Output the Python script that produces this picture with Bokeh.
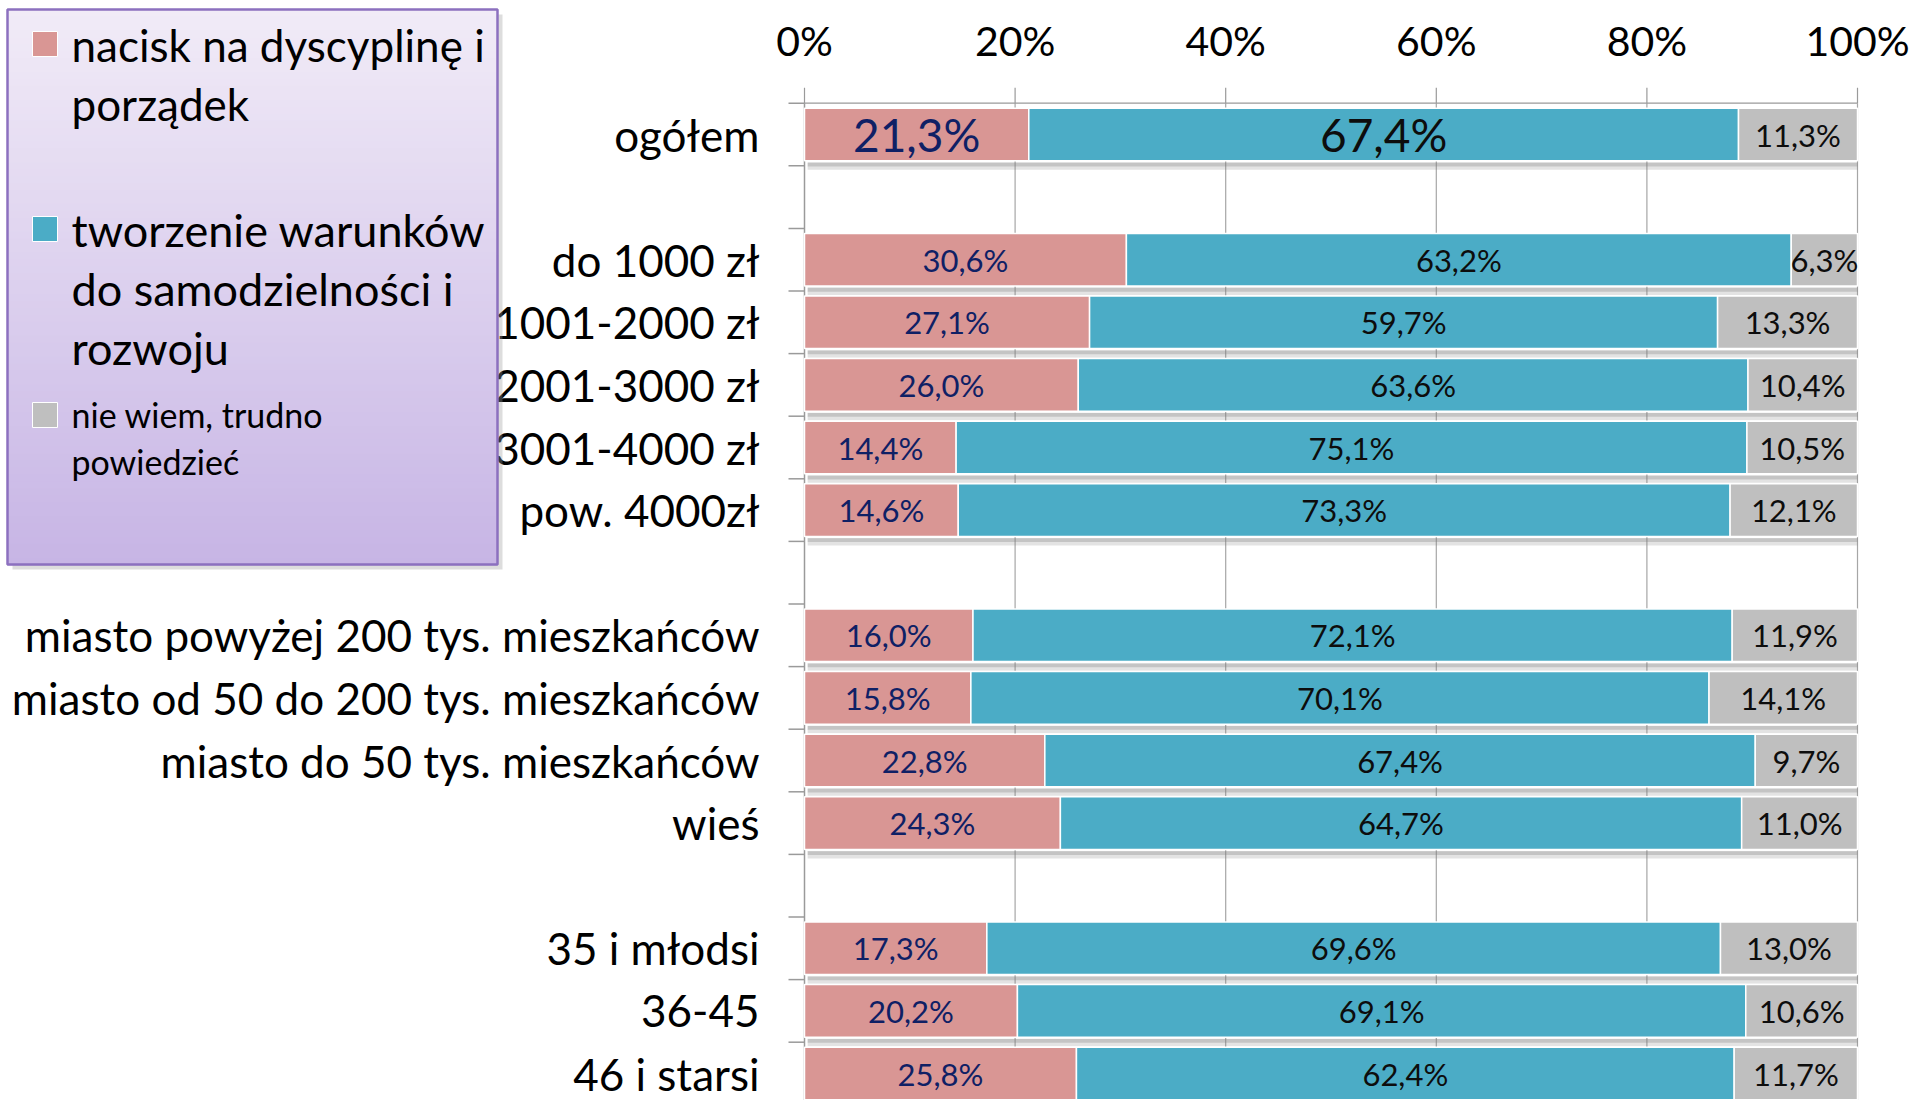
from bokeh.plotting import figure
from bokeh.models import Range1d, ColumnDataSource
from bokeh.core.properties import value
from bokeh.embed import file_html
from bokeh.resources import INLINE

# ---------------- data ----------------
group_total = ["ogółem"]
group_income = ["do 1000 zł", "1001-2000 zł", "2001-3000 zł", "3001-4000 zł", "pow. 4000zł"]
group_place = ["miasto powyżej 200 tys. mieszkańców", "miasto od 50 do 200 tys. mieszkańców",
               "miasto do 50 tys. mieszkańców", "wieś"]
group_age = ["35 i młodsi", "36-45", "46 i starsi"]
groups = [group_total, group_income, group_place, group_age]

discipline = [21.3, 30.6, 27.1, 26.0, 14.4, 14.6, 16.0, 15.8, 22.8, 24.3, 17.3, 20.2, 25.8]
development = [67.4, 63.2, 59.7, 63.6, 75.1, 73.3, 72.1, 70.1, 67.4, 64.7, 69.6, 69.1, 62.4]
dont_know = [11.3, 6.3, 13.3, 10.4, 10.5, 12.1, 11.9, 14.1, 9.7, 11.0, 13.0, 10.6, 11.7]

series_names = ["nacisk na dyscyplinę i\nporządek",
                "tworzenie warunków\ndo samodzielności i\nrozwoju",
                "nie wiem, trudno\npowiedzieć"]
tick_values = [0, 20, 40, 60, 80, 100]
tick_labels = ["0%", "20%", "40%", "60%", "80%", "100%"]

# ---------------- style ----------------
FONT = "Lato"
C_PINK = "#D99694"
C_TEAL = "#4BACC6"
C_GRAY = "#BFBFBF"
C_NAVY = "#0F2065"
C_DARK = "#0D0D0D"
C_GRID = "#A6A6A6"
C_AXIS = "#9A9A9A"

W, H = 1917, 1100
ORIGIN = 0
X0_PX, X100_PX = 804, 1857
PX_PER_UNIT = (X100_PX - X0_PX) / 100.0
SLOT_PX = 62.6
SLOT0_PX = 134.0


def fx(px):
    return (px - X0_PX) / PX_PER_UNIT


def fy(py):
    return (py - SLOT0_PX) / SLOT_PX


# category slot positions (one empty slot between groups)
cats, ys = [], []
pos = 0
for g in groups:
    for c in g:
        cats.append(c)
        ys.append(pos)
        pos += 1
    pos += 1
n_slots = pos - 1

p = figure(width=W, height=H,
           x_range=Range1d(fx(ORIGIN), fx(ORIGIN + W)),
           y_range=Range1d(fy(ORIGIN + H), fy(ORIGIN)),
           x_axis_type=None, y_axis_type=None,
           toolbar_location=None, output_backend="svg",
           min_border=0)
p.outline_line_color = None
p.grid.visible = False
p.background_fill_color = "white"
p.border_fill_color = "white"

bottom_y = fy(ORIGIN + H) + 1

# gridlines and axes
p.segment(x0=tick_values[1:], x1=tick_values[1:], y0=[-0.5] * 5, y1=[bottom_y] * 5,
          line_color=C_GRID, line_width=1.2)
p.segment(x0=tick_values, x1=tick_values, y0=[-0.5] * 6, y1=[-0.5 - 15.5 / SLOT_PX] * 6,
          line_color=C_AXIS, line_width=1.2)
p.segment(x0=[0], x1=[100], y0=[-0.5], y1=[-0.5], line_color=C_AXIS, line_width=1.2)
p.segment(x0=[0], x1=[0], y0=[-0.5], y1=[bottom_y], line_color=C_AXIS, line_width=1.5)
bounds = [b - 0.5 for b in range(n_slots + 1)]
p.segment(x0=[fx(788)] * len(bounds), x1=[0] * len(bounds), y0=bounds, y1=bounds,
          line_color=C_AXIS, line_width=1.5)

p.text(x=tick_values, y=[fy(40)] * 6, text=tick_labels, text_font=value(FONT),
       text_font_size="41px", text_align="center", text_baseline="middle",
       text_color="#000000")

# normalised stacked segments (100% stacked bars)
totals = [a + b + c for a, b, c in zip(discipline, development, dont_know)]
d_r = [a / t * 100 for a, t in zip(discipline, totals)]
v_r = [(a + b) / t * 100 for a, b, t in zip(discipline, development, totals)]

BAR_H = 0.84
# soft shadows below bars
p.hbar(y=[y + BAR_H / 2 + 0.085 for y in ys], left=0.3, right=100, height=0.12,
       fill_color="#7F7F7F", fill_alpha=0.22, line_color=None)
p.hbar(y=[y + BAR_H / 2 + 0.06 for y in ys], left=0.3, right=100, height=0.06,
       fill_color="#7F7F7F", fill_alpha=0.3, line_color=None)

src = ColumnDataSource(dict(y=ys, l0=[0] * len(ys), r0=d_r, r1=v_r, r2=[100] * len(ys)))
p.hbar(y="y", left="l0", right="r0", height=BAR_H, source=src,
       fill_color=C_PINK, line_color="white", line_width=1.5)
p.hbar(y="y", left="r0", right="r1", height=BAR_H, source=src,
       fill_color=C_TEAL, line_color="white", line_width=1.5)
p.hbar(y="y", left="r1", right="r2", height=BAR_H, source=src,
       fill_color=C_GRAY, line_color="white", line_width=1.5)


def fmt(v):
    return f"{v:.1f}%".replace(".", ",")


# data labels; the first row (ogółem) uses larger labels for the first two series
for si, (vals, lefts, rights, color) in enumerate([
        (discipline, [0] * len(ys), d_r, C_NAVY),
        (development, d_r, v_r, C_DARK),
        (dont_know, v_r, [100] * len(ys), C_DARK)]):
    xs = [(a + b) / 2 for a, b in zip(lefts, rights)]
    big_idx = [0] if si < 2 else []
    small_idx = [i for i in range(len(ys)) if i not in big_idx]
    for idx, sz in [(small_idx, "31px"), (big_idx, "46px")]:
        if not idx:
            continue
        p.text(x=[xs[i] for i in idx], y=[ys[i] for i in idx],
               text=[fmt(vals[i]) for i in idx], text_font=value(FONT),
               text_font_size=sz, text_align="center", text_baseline="middle",
               text_color=color)

# category labels
p.text(x=[fx(759)] * len(cats), y=ys, text=cats, text_font=value(FONT),
       text_font_size="44px", text_align="right", text_baseline="middle",
       text_color="#000000")

# ---------------- legend box ----------------
LX0, LX1, LY0, LY1 = 7, 497, 9, 564
p.quad(left=fx(LX0 + 5), right=fx(LX1 + 5), top=fy(LY0 + 5), bottom=fy(LY1 + 5),
       fill_color="#9E9E9E", fill_alpha=0.35, line_color=None)
top_rgb = (0xF1, 0xEB, 0xF7)
bot_rgb = (0xC7, 0xB5, 0xE5)
steps = 80
g_top, g_bot, g_col = [], [], []
for k in range(steps):
    t = k / (steps - 1)
    py0 = LY0 + (LY1 - LY0) * k / steps
    py1 = LY0 + (LY1 - LY0) * (k + 1) / steps + 0.8
    rgb = tuple(int(round(a + (b - a) * t)) for a, b in zip(top_rgb, bot_rgb))
    g_top.append(fy(py0))
    g_bot.append(fy(py1))
    g_col.append("#%02X%02X%02X" % rgb)
p.quad(left=fx(LX0), right=fx(LX1), top=g_top, bottom=g_bot, fill_color=g_col, line_color=None)
p.quad(left=fx(LX0), right=fx(LX1), top=fy(LY0), bottom=fy(LY1), fill_color=None,
       line_color="#8C70BF", line_width=2.5)

legend_colors = [C_PINK, C_TEAL, C_GRAY]
square_tops = [31, 216, 402]
line_starts = [44, 229, 414]
line_gaps = [59, 59, 47]
line_sizes = ["44px", "45px", "34px"]
for name, col, sq, ly, gap, sz in zip(series_names, legend_colors, square_tops, line_starts,
                                      line_gaps, line_sizes):
    p.quad(left=fx(32), right=fx(57), top=fy(sq), bottom=fy(sq + 25), fill_color=col,
           line_color="white", line_width=1)
    lines = name.split("\n")
    p.text(x=[fx(71)] * len(lines), y=[fy(ly + gap * i) for i in range(len(lines))],
           text=lines, text_font=value(FONT), text_font_size=sz, text_align="left",
           text_baseline="middle", text_color="#000000")

open("out.html", "w").write(file_html(p, INLINE))
